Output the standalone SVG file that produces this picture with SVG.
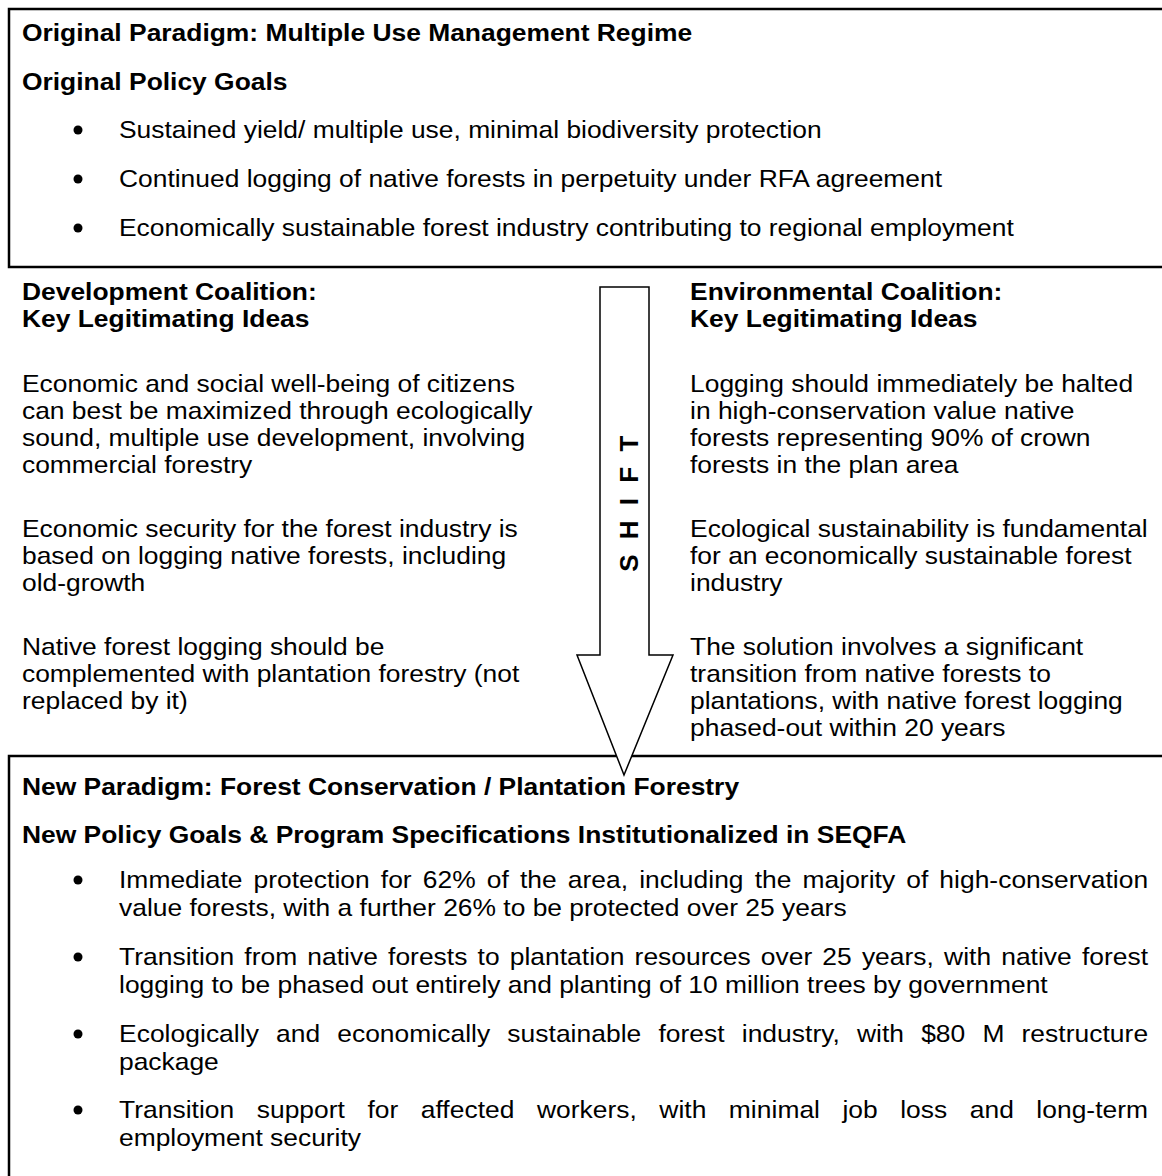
<svg xmlns="http://www.w3.org/2000/svg" width="1162" height="1176" viewBox="0 0 1162 1176">
<style>
.box{fill:none;stroke:#000;stroke-width:2.5}
.arrow{fill:#fff;stroke:#000;stroke-width:1.5;stroke-linejoin:miter}
text{font-family:"Liberation Sans",Arial,Helvetica,sans-serif;font-size:24px;fill:#000}
.b{font-weight:bold}
.dot{fill:#000}
.shift{font-weight:bold;font-size:26px;letter-spacing:4px}
</style>
<rect width="1162" height="1176" fill="#fff"/>
<g id="original-paradigm">
<rect class="box" x="9" y="9" width="1200" height="258"/>
<circle class="dot" cx="78" cy="130" r="4.5"/>
<circle class="dot" cx="78" cy="179" r="4.5"/>
<circle class="dot" cx="78" cy="228" r="4.5"/>
<g transform="scale(1.1,1)">
<text class="b" x="20" y="41">Original Paradigm: Multiple Use Management Regime</text>
<text class="b" x="20" y="90">Original Policy Goals</text>
<text x="108.2" y="138">Sustained yield/ multiple use, minimal biodiversity protection</text>
<text x="108.2" y="187">Continued logging of native forests in perpetuity under RFA agreement</text>
<text x="108.2" y="236">Economically sustainable forest industry contributing to regional employment</text>
</g>
</g>
<g id="development-coalition">
<g transform="scale(1.1,1)">
<text class="b" x="20" y="300">Development Coalition:</text>
<text class="b" x="20" y="327">Key Legitimating Ideas</text>
<text x="20" y="392">Economic and social well-being of citizens</text>
<text x="20" y="419">can best be maximized through ecologically</text>
<text x="20" y="446">sound, multiple use development, involving</text>
<text x="20" y="473">commercial forestry</text>
<text x="20" y="537">Economic security for the forest industry is</text>
<text x="20" y="564">based on logging native forests, including</text>
<text x="20" y="591">old-growth</text>
<text x="20" y="655">Native forest logging should be</text>
<text x="20" y="682">complemented with plantation forestry (not</text>
<text x="20" y="709">replaced by it)</text>
</g>
</g>
<g id="environmental-coalition">
<g transform="scale(1.1,1)">
<text class="b" x="627.3" y="300">Environmental Coalition:</text>
<text class="b" x="627.3" y="327">Key Legitimating Ideas</text>
<text x="627.3" y="392">Logging should immediately be halted</text>
<text x="627.3" y="419">in high-conservation value native</text>
<text x="627.3" y="446">forests representing 90% of crown</text>
<text x="627.3" y="473">forests in the plan area</text>
<text x="627.3" y="537">Ecological sustainability is fundamental</text>
<text x="627.3" y="564">for an economically sustainable forest</text>
<text x="627.3" y="591">industry</text>
<text x="627.3" y="655">The solution involves a significant</text>
<text x="627.3" y="682">transition from native forests to</text>
<text x="627.3" y="709">plantations, with native forest logging</text>
<text x="627.3" y="736">phased-out within 20 years</text>
</g>
</g>
<g id="new-paradigm">
<rect class="box" x="9" y="756" width="1200" height="500"/>
</g>
<g id="connectors">
<g id="shift-arrow">
<polygon class="arrow" points="600,287 649,287 649,655 673,655 624,775 577,655 600,655"/>
<text class="shift" transform="translate(638,571.7) rotate(-90)">S H I F T</text>
</g>
</g>
<g id="new-paradigm-text">
<circle class="dot" cx="78" cy="880" r="4.5"/>
<circle class="dot" cx="78" cy="957" r="4.5"/>
<circle class="dot" cx="78" cy="1034" r="4.5"/>
<circle class="dot" cx="78" cy="1110" r="4.5"/>
<g transform="scale(1.1,1)">
<text class="b" x="20" y="795">New Paradigm: Forest Conservation / Plantation Forestry</text>
<text class="b" x="20" y="843">New Policy Goals &amp; Program Specifications Institutionalized in SEQFA</text>
<text x="108.2" y="888" word-spacing="3.4" textLength="935.5" lengthAdjust="spacing">Immediate protection for 62% of the area, including the majority of high-conservation</text>
<text x="108.2" y="916">value forests, with a further 26% to be protected over 25 years</text>
<text x="108.2" y="965" word-spacing="2.5" textLength="935.5" lengthAdjust="spacing">Transition from native forests to plantation resources over 25 years, with native forest</text>
<text x="108.2" y="993">logging to be phased out entirely and planting of 10 million trees by government</text>
<text x="108.2" y="1042" word-spacing="8.8" textLength="935.5" lengthAdjust="spacing">Ecologically and economically sustainable forest industry, with $80 M restructure</text>
<text x="108.2" y="1070">package</text>
<text x="108.2" y="1118" word-spacing="13.7" textLength="935.5" lengthAdjust="spacing">Transition support for affected workers, with minimal job loss and long-term</text>
<text x="108.2" y="1146">employment security</text>
</g>
</g>
</svg>
